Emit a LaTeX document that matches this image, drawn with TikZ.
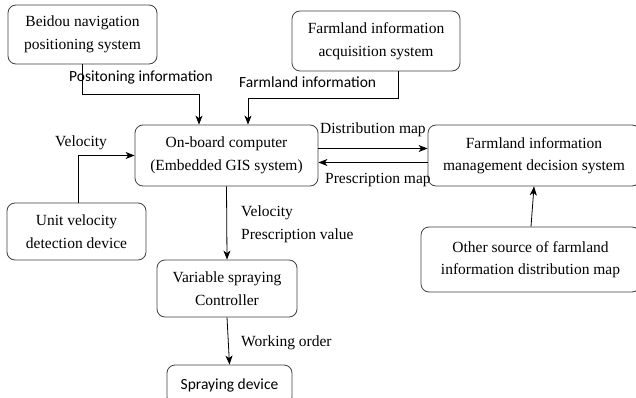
\documentclass[tikz,border=0pt]{standalone}
\usepackage{fontspec}
\setmainfont{Liberation Serif}
\newfontfamily\labelfont{Carlito}
\usetikzlibrary{arrows.meta}
\usetikzlibrary{calc}

\tikzset{
  box/.style={draw=black!75, line width=0.8pt, rounded corners=8pt, align=center,
    inner sep=0pt, font=\fontsize{15.5}{22.5}\selectfont},
  lbl/.style={anchor=west, inner sep=0pt, align=left, font=\fontsize{15.5}{23}\selectfont},
  slbl/.style={lbl, font=\labelfont\fontsize{15.5}{19}\selectfont},
  link/.style={draw=black, line width=0.8pt, -{Stealth[length=9pt,width=7pt,inset=2.5pt]}}
}

\begin{document}
\begin{tikzpicture}[x=1pt, y=-1pt]
    \useasboundingbox (0,0) rectangle (636,398);
    \clip (0,0) rectangle (636,398);
    % boxes
    \node[box, minimum width=149pt, minimum height=59pt] (bei) at (82.5,34.5)
      {Beidou navigation\\positioning system};
    \node[box, minimum width=168pt, minimum height=60pt] (acq) at (376,41)
      {Farmland information\\acquisition system};
    \node[box, minimum width=183pt, minimum height=61pt] (obc) at (226.5,155.5)
      {On-board computer\\(Embedded GIS system)};
    \node[box, minimum width=212pt, minimum height=61pt] (fim) at (534,155.5)
      {Farmland information\\management decision system};
    \node[box, minimum width=139pt, minimum height=57pt] (uvd) at (76.5,231.5)
      {Unit velocity\\detection device};
    \node[box, minimum width=140pt, minimum height=57pt] (vsc) at (227,288.5)
      {Variable spraying\\Controller};
    \node[box, minimum width=125pt, minimum height=40pt, font=\labelfont\fontsize{15.5}{19}\selectfont] (spd) at (229.5,385)
      {Spraying device};
    \node[box, minimum width=219pt, minimum height=65pt] (oth) at (530.5,259.5)
      {Other source of farmland\\information distribution map};
    % connectors
    \path[link]
      (bei.south) -- ++(0,30) -| ($(obc.north)+(-27.5,0)$);
    \path[link]
      ($(acq.south)+(22,0)$) -- ++(0,27) -| ($(obc.north)+(21.5,0)$);
    \path[link]
      ($(uvd.north)+(1.5,0)$) |- (obc.west);
    \path[link] ($(obc.east)+(0,-7)$) -- ($(fim.west)+(0,-7)$);
    \path[link] ($(fim.west)+(0,7)$) -- ($(obc.east)+(0,7)$);
    \path[link] (obc.south) -- (vsc.north);
    \path[link] (vsc.south) -- (spd.north);
    \path[link] ($(oth.north)+(0.5,0)$) -- (fim.south);
    % labels
    \node[slbl] (l-pos) at (69,77) {Positoning information};
    \node[slbl] (l-farm) at (239,82) {Farmland information};
    \node[lbl] (l-vel) at (55,143) {Velocity};
    \node[lbl] (l-dist) at (320,130) {Distribution map};
    \node[lbl] (l-pres) at (325,180) {Prescription map};
    \node[lbl] (l-val) at (241,224.5) {Velocity\\Prescription value};
    \node[lbl] (l-work) at (241,343) {Working order};
\end{tikzpicture}
\end{document}
